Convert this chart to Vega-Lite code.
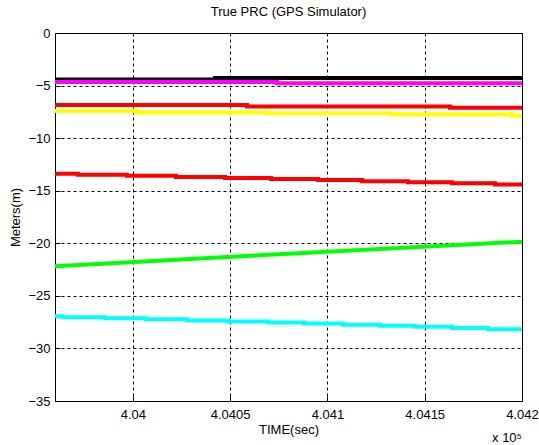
{
  "$schema": "https://vega.github.io/schema/vega-lite/v6.json",
  "autosize": "none",
  "width": 467,
  "height": 368,
  "padding": {"left": 55, "top": 33, "right": 17, "bottom": 44},
  "background": "white",
  "title": {"text": "True PRC (GPS Simulator)", "fontSize": 13, "font": "Liberation Sans", "fontWeight": "normal", "color": "black", "offset": 8},
  "config": {
    "view": {"stroke": "black", "strokeWidth": 1},
    "axis": {
      "labelFont": "Liberation Sans", "labelFontSize": 13, "labelColor": "black",
      "titleFont": "Liberation Sans", "titleFontSize": 13, "titleFontWeight": "normal", "titleColor": "black",
      "domainColor": "black", "tickColor": "black", "tickSize": -5,
      "gridColor": "black", "gridOpacity": 1, "gridWidth": 1, "gridDash": [3, 3]
    }
  },
  "datasets": {
    "steps": [
      {"s": "black", "t": 4.0396, "v": -4.43},
      {"s": "black", "t": 4.040422, "v": -4.28},
      {"s": "black", "t": 4.042, "v": -4.28},
      {"s": "magenta", "t": 4.0396, "v": -4.65},
      {"s": "magenta", "t": 4.040741, "v": -4.77},
      {"s": "magenta", "t": 4.042, "v": -4.77},
      {"s": "red1", "t": 4.0396, "v": -6.85},
      {"s": "red1", "t": 4.040587, "v": -6.98},
      {"s": "red1", "t": 4.04163, "v": -7.1},
      {"s": "red1", "t": 4.042, "v": -7.1},
      {"s": "yellow", "t": 4.0396, "v": -7.41},
      {"s": "yellow", "t": 4.040021, "v": -7.55},
      {"s": "yellow", "t": 4.040689, "v": -7.64},
      {"s": "yellow", "t": 4.041332, "v": -7.73},
      {"s": "yellow", "t": 4.041949, "v": -7.86},
      {"s": "yellow", "t": 4.042, "v": -7.86},
      {"s": "red2", "t": 4.0396, "v": -13.38},
      {"s": "red2", "t": 4.039718, "v": -13.48},
      {"s": "red2", "t": 4.03997, "v": -13.58},
      {"s": "red2", "t": 4.040222, "v": -13.69},
      {"s": "red2", "t": 4.040474, "v": -13.79},
      {"s": "red2", "t": 4.04071, "v": -13.89},
      {"s": "red2", "t": 4.040952, "v": -13.99},
      {"s": "red2", "t": 4.041178, "v": -14.1},
      {"s": "red2", "t": 4.041414, "v": -14.2},
      {"s": "red2", "t": 4.04164, "v": -14.3},
      {"s": "red2", "t": 4.041861, "v": -14.42},
      {"s": "red2", "t": 4.042, "v": -14.42},
      {"s": "cyan", "t": 4.0396, "v": -26.93},
      {"s": "cyan", "t": 4.039641, "v": -27.03},
      {"s": "cyan", "t": 4.039857, "v": -27.13},
      {"s": "cyan", "t": 4.040068, "v": -27.23},
      {"s": "cyan", "t": 4.040278, "v": -27.34},
      {"s": "cyan", "t": 4.040489, "v": -27.44},
      {"s": "cyan", "t": 4.040695, "v": -27.54},
      {"s": "cyan", "t": 4.04088, "v": -27.64},
      {"s": "cyan", "t": 4.04108, "v": -27.74},
      {"s": "cyan", "t": 4.04127, "v": -27.85},
      {"s": "cyan", "t": 4.04145, "v": -27.95},
      {"s": "cyan", "t": 4.04164, "v": -28.05},
      {"s": "cyan", "t": 4.041825, "v": -28.17},
      {"s": "cyan", "t": 4.042, "v": -28.17}
    ],
    "green": [
      {"s": "green", "t": 4.0396, "v": -22.18},
      {"s": "green", "t": 4.0408, "v": -20.99},
      {"s": "green", "t": 4.042, "v": -19.85}
    ]
  },
  "encoding": {
    "x": {
      "field": "t", "type": "quantitative",
      "scale": {"domain": [4.0396, 4.042], "nice": false, "zero": false},
      "axis": {"values": [4.04, 4.0405, 4.041, 4.0415, 4.042], "format": ".5~f", "labelPadding": 12, "title": "TIME(sec)", "titlePadding": 2, "labelFlush": false}
    },
    "y": {
      "field": "v", "type": "quantitative",
      "scale": {"domain": [-35, 0], "nice": false},
      "axis": {"values": [-35, -30, -25, -20, -15, -10, -5, 0], "labelPadding": 10, "title": "Meters(m)", "titlePadding": 5, "labelFlush": false}
    },
    "color": {
      "field": "s", "type": "nominal", "legend": null,
      "scale": {
        "domain": ["black", "magenta", "red1", "yellow", "red2", "green", "cyan"],
        "range": ["#000000", "#ff00ff", "#ff0000", "#ffff00", "#ff0000", "#00ff00", "#00ffff"]
      }
    }
  },
  "layer": [
    {
      "data": {"name": "green"},
      "mark": {"type": "line", "strokeWidth": 4, "clip": true}
    },
    {
      "data": {"name": "steps"},
      "mark": {"type": "line", "strokeWidth": 4, "interpolate": "step-after", "clip": true},
      "encoding": {"order": {"field": "t"}}
    },
    {
      "data": {"values": [{"t": 4.042, "v": -35, "label": "x 10⁵"}]},
      "mark": {"type": "text", "align": "right", "baseline": "alphabetic", "dy": 41, "font": "Liberation Sans", "fontSize": 13, "color": "black"},
      "encoding": {"text": {"field": "label"}, "color": {"value": "black"}}
    }
  ]
}
